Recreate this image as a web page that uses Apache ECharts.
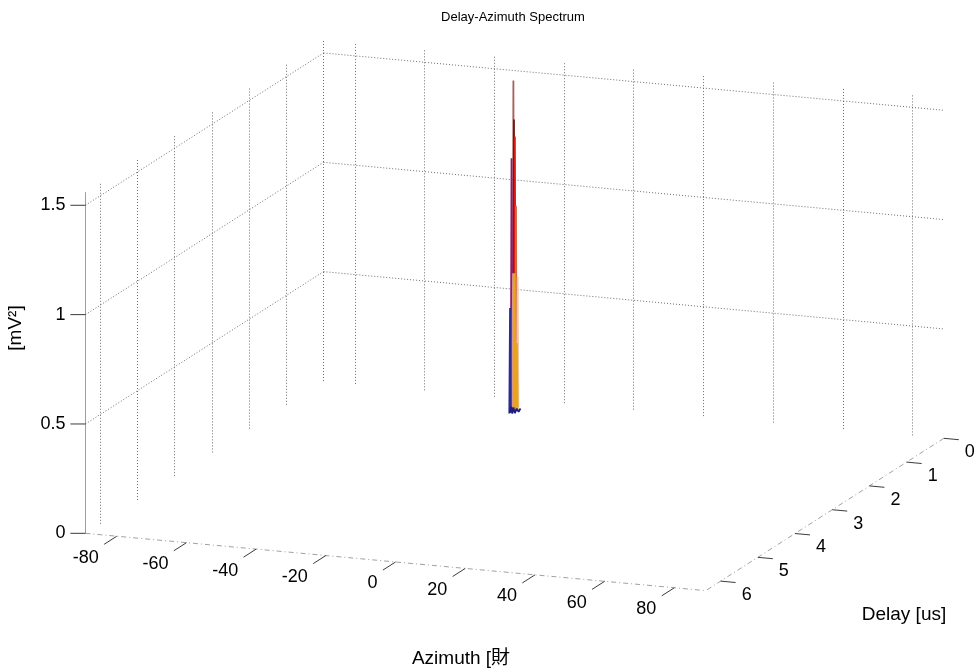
<!DOCTYPE html>
<html><head><meta charset="utf-8">
<script src="https://cdn.jsdelivr.net/npm/echarts@6/dist/echarts.min.js"></script>
<style>html,body{margin:0;padding:0;background:#fff}#c{width:978px;height:670px}</style>
</head><body><div id="c"></div>
<script>
// ---------------- data ----------------
const azimuthTicks = [-80, -60, -40, -20, 0, 20, 40, 60, 80];
const delayTicks = [0, 1, 2, 3, 4, 5, 6];
const powerTicks = [0, 0.5, 1, 1.5];
const powerTickLabels = ['0', '0.5', '1', '1.5'];
const azimuthRange = [-89, 89];
const delayRange = [0, 6.4];
const powerRange = [0, 1.56];

// spectrum traces near the single peak
const traceAzimuth = -28;
const traceColors = ['#a5635d', '#701616', '#d81a10', '#d6643c', '#f3c6a6', '#e6a61e',
                     '#8c1c6c', '#dc9886', '#e8a41c', '#2c2c8e', '#1e1e80'];
const traceDelays = [
  [0.59, 0.61, 0.63],
  [0.575, 0.595, 0.615],
  [0.55, 0.57, 0.59],
  [0.52, 0.54, 0.56],
  [0.475, 0.495, 0.515],
  [0.495, 0.515, 0.535],
  [0.64, 0.66, 0.68],
  [0.60, 0.62, 0.64],
  [0.555, 0.575, 0.595],
  [0.68, 0.70, 0.72],
  [0.70, 0.67, 0.64, 0.61, 0.57, 0.52, 0.47, 0.42]
];
const tracePower = [
  [0.03, 1.53, 0.02],
  [0.02, 1.35, 0.03],
  [0.03, 1.27, 0.02],
  [0.02, 0.95, 0.03],
  [0.02, 0.62, 0.01],
  [0.01, 0.32, 0.02],
  [0.02, 1.18, 0.03],
  [0.02, 0.65, 0.02],
  [0.03, 0.645, 0.02],
  [0.03, 0.50, 0.02],
  [0.02, 0.045, 0.01, 0.035, 0.005, 0.02, 0.0, 0.01]
];

// ---------------- view (oblique projection, style only) ----------------
const V = {ax: 3.485, ay: 0.322, dx: -37.2, dy: 23.8, zy: 218.7, ox: 323.5, oy: 381, W: 978, H: 670};
const aMin = azimuthRange[0], aMax = azimuthRange[1];
const dMin = delayRange[0], dMax = delayRange[1];
const zMax = powerRange[1];
function proj(a, d, z) {
  return [a + (V.dx / V.ax) * d,
          z - (V.ay / V.zy) * (a - aMin) - (V.dy / V.zy) * d];
}
const xMin = aMin - V.ox / V.ax;
const yMax = V.oy / V.zy;

const FONT = "'Liberation Sans', Arial, 'Noto Sans CJK SC', sans-serif";
const GRID_STYLE = {color: '#555', width: 1, type: [1, 2], opacity: 0.85};

// grid lines
const gridLines = [];
azimuthTicks.forEach(a => gridLines.push({coords: [proj(a, 0, 0), proj(a, 0, zMax)]}));
delayTicks.forEach(d => gridLines.push({coords: [proj(aMin, d, 0), proj(aMin, d, zMax)]}));
powerTicks.filter(z => z > 0).forEach(z => {
  gridLines.push({coords: [proj(aMin, dMax, z), proj(aMin, 0, z)]});
  gridLines.push({coords: [proj(aMin, 0, z), proj(aMax, 0, z)]});
});

const series = [];
series.push({type: 'lines', coordinateSystem: 'cartesian2d', silent: true, animation: false,
  lineStyle: GRID_STYLE, data: gridLines, z: 1});
// z axis (solid)
series.push({type: 'lines', coordinateSystem: 'cartesian2d', silent: true, animation: false,
  lineStyle: {color: '#3c3c3c', width: 1, type: 'solid'},
  data: [{coords: [proj(aMin, dMax, 0), proj(aMin, dMax, zMax)]}], z: 2});
// azimuth & delay axes (broken lines)
series.push({type: 'lines', coordinateSystem: 'cartesian2d', silent: true, animation: false,
  lineStyle: {color: '#444', width: 1, type: [5, 3, 1, 3]},
  data: [{coords: [proj(aMin, dMax, 0), proj(aMax, dMax, 0)]},
         {coords: [proj(aMax, dMin, 0), proj(aMax, dMax, 0)]}], z: 2});

// spectrum traces
traceDelays.forEach((ds, i) => {
  series.push({type: 'line', animation: false, silent: true, symbol: 'none', z: 5,
    lineStyle: {color: traceColors[i], width: 1.8},
    data: ds.map((d, k) => proj(traceAzimuth, d, tracePower[i][k]))});
});

function tickSeries(items, opts) {
  return {type: 'custom', coordinateSystem: 'cartesian2d', animation: false, silent: true, z: 3,
    data: items, encode: {x: 0, y: 1},
    renderItem: (params, api) => {
      const p = api.coord([api.value(0), api.value(1)]);
      let e;
      if (opts.pxTick) e = [p[0] + opts.pxTick[0], p[1] + opts.pxTick[1]];
      else e = api.coord([api.value(3), api.value(4)]);
      const txt = opts.labels ? opts.labels[params.dataIndex] : String(api.value(2));
      return {type: 'group', children: [
        {type: 'line', shape: {x1: p[0], y1: p[1], x2: e[0], y2: e[1]},
         style: {stroke: '#3c3c3c', lineWidth: 1}},
        {type: 'text', x: p[0] + opts.off[0], y: p[1] + opts.off[1],
         style: {text: txt, font: '18px ' + FONT, fill: '#000',
                 align: opts.align, textAlign: opts.align,
                 verticalAlign: 'middle', textVerticalAlign: 'middle'}}
      ]};
    }};
}
series.push(tickSeries(azimuthTicks.map(a => proj(a, dMax, 0).concat([a], proj(a, dMax + 0.34, 0))),
  {off: [-18, 21.5], align: 'right'}));
series.push(tickSeries(delayTicks.map(d => proj(aMax, d, 0).concat([d], proj(aMax + 4.3, d, 0))),
  {off: [21, 14], align: 'left'}));
series.push(tickSeries(powerTicks.map(z => proj(aMin, dMax, z).concat([z])),
  {off: [-20, 0], align: 'right', pxTick: [-15, 0], labels: powerTickLabels}));

const chart = echarts.init(document.getElementById('c'), null, {renderer: 'canvas'});
chart.setOption({
  animation: false,
  backgroundColor: '#fff',
  grid: {left: 0, right: 0, top: 0, bottom: 0},
  xAxis: {type: 'value', min: xMin, max: xMin + V.W / V.ax, show: false},
  yAxis: {type: 'value', max: yMax, min: yMax - V.H / V.zy, show: false},
  graphic: [
    {type: 'text', x: 513, y: 17, style: {text: 'Delay-Azimuth Spectrum', font: '13px ' + FONT, fill: '#000',
      align: 'center', textAlign: 'center', verticalAlign: 'middle', textVerticalAlign: 'middle'}},
    {type: 'text', x: 461, y: 659, style: {text: 'Azimuth [財', font: '19px ' + FONT, fill: '#000',
      align: 'center', textAlign: 'center', verticalAlign: 'middle', textVerticalAlign: 'middle'}},
    {type: 'text', x: 904, y: 615, style: {text: 'Delay [us]', font: '19px ' + FONT, fill: '#000',
      align: 'center', textAlign: 'center', verticalAlign: 'middle', textVerticalAlign: 'middle'}},
    {type: 'text', x: 16, y: 328, rotation: Math.PI / 2, style: {text: '[mV²]', font: '19px ' + FONT, fill: '#000',
      align: 'center', textAlign: 'center', verticalAlign: 'middle', textVerticalAlign: 'middle'}}
  ],
  series: series
});
</script>
</body></html>
